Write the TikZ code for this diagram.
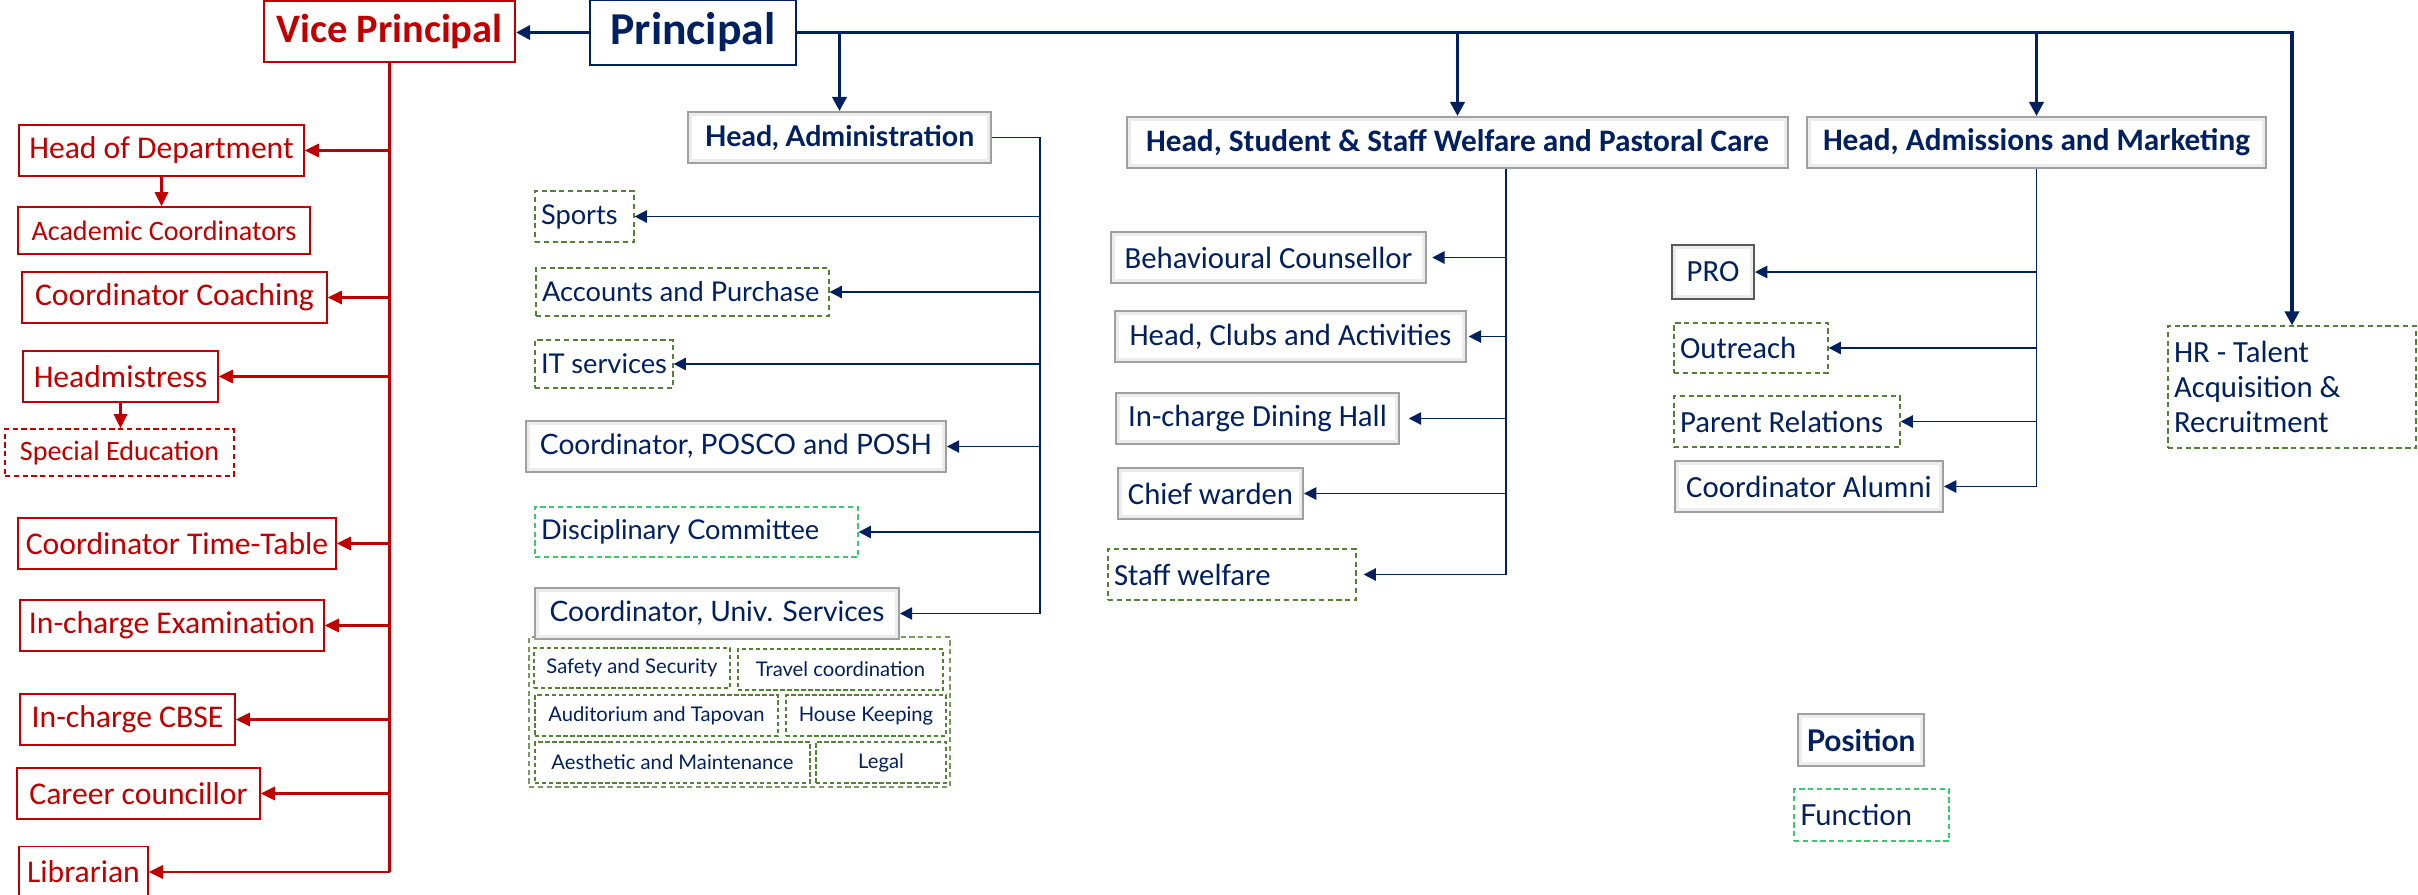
\documentclass[tikz,border=0pt]{standalone}
\usepackage{fontspec}
\setmainfont{Carlito}
\newfontfamily\widefont{Lato}
\usetikzlibrary{arrows.meta}

\definecolor{navy}{RGB}{0,32,96}
\definecolor{vpred}{RGB}{192,0,0}
\definecolor{fngreen}{RGB}{84,130,53}
\definecolor{mintgreen}{RGB}{60,200,110}
\definecolor{bevelgray}{RGB}{160,160,160}

\tikzset{
  redbox/.style={draw=vpred, line width=0.9pt, text=vpred, inner sep=0pt,
    minimum height=1.02cm, font=\fontsize{18}{20}\selectfont},
  redsmall/.style={redbox, minimum height=0.94cm, font=\fontsize{16}{18}\selectfont},
  posbox/.style={draw=bevelgray, line width=1.1pt, fill=gray!15, text=navy, inner sep=0pt,
    minimum height=1.02cm, font=\fontsize{17.5}{20}\selectfont,
    path picture={\fill[white] ([shift={(2.5pt,-2.5pt)}]path picture bounding box.north west)
      rectangle ([shift={(-2.5pt,2.5pt)}]path picture bounding box.south east);}},
  headbox/.style={posbox, font=\bfseries\fontsize{17.8}{20}\selectfont},
  wideheadbox/.style={posbox, font=\widefont\bfseries\fontsize{16.2}{18}\selectfont},
  wideposbox/.style={posbox, font=\widefont\fontsize{16}{18}\selectfont},
  fnbox/.style={draw=fngreen, dash pattern=on 3pt off 2pt, line width=0.7pt, text=navy,
    inner xsep=0.12cm, inner ysep=0pt, minimum height=1.02cm, align=flush left,
    font=\fontsize{17.5}{19.8}\selectfont},
  widefnbox/.style={fnbox, font=\widefont\fontsize{15.5}{18}\selectfont},
  unitbox/.style={draw=fngreen, dash pattern=on 2.5pt off 1.5pt, line width=1.1pt, text=navy,
    inner sep=0pt, minimum height=0.82cm, font=\widefont\fontsize{11.5}{13}\selectfont},
  redline/.style={draw=vpred, line width=1.4pt},
  redarrow/.style={redline, -{Triangle[length=8pt,width=7.5pt]}},
  subline/.style={draw=navy, line width=1pt},
  subarrow/.style={subline, -{Triangle[length=7pt,width=7pt]}},
  toparrow/.style={draw=navy, line width=2pt, -{Triangle[length=8pt,width=8pt]}},
}

\begin{document}
\begin{tikzpicture}[x=0.02cm, y=-0.02cm]
  \useasboundingbox (0,0) rectangle (2418,894);

  % top of the chart
  \node[redbox, line width=1.2pt, minimum width=5.02cm, minimum height=1.22cm,
        font=\bfseries\fontsize{23}{26}\selectfont] (vp) at (389.5,31.5) {Vice Principal};
  \node[draw=navy, line width=1.2pt, text=navy, inner sep=0pt, minimum width=4.12cm,
        minimum height=1.3cm, font=\bfseries\fontsize{26}{28}\selectfont] (principal) at (693,32.5) {Principal};

  % vice principal side
  \foreach \n/\x/\y/\w/\t in {hod/161.5/150.5/5.7/Head of Department,
      coach/174.5/297.5/6.1/Coordinator Coaching,
      headm/120.5/376.5/3.9/Headmistress,
      ctt/177/543.5/6.36/Coordinator Time-Table,
      exam/172/625.5/6.08/In-charge Examination,
      cbse/127.5/719.5/4.3/In-charge CBSE,
      career/138.5/793.5/4.86/Career councillor,
      libr/83.5/872/2.58/Librarian}
    \node[redbox, minimum width=\w cm] (\n) at (\x,\y) {\t};
  \node[redsmall, minimum width=5.84cm] (acad) at (164,230.5) {Academic Coordinators};
  \node[redsmall, dash pattern=on 3pt off 2pt, minimum width=4.58cm] (spedu) at (119.5,452.5) {Special Education};

  % positions
  \node[wideheadbox, minimum width=6.06cm] (hadm) at (839.5,137.5) {Head, Administration};
  \node[headbox, minimum width=13.22cm] (hswel) at (1457.5,142.5) {Head, Student \& Staff Welfare and Pastoral Care};
  \node[headbox, minimum width=9.18cm] (hmkt) at (2036.5,142.5) {Head, Admissions and Marketing};
  \node[wideposbox, minimum width=8.4cm] (posco) at (736,446.5) {Coordinator, POSCO and POSH};
  \node[draw=fngreen!80, dash pattern=on 3pt off 2pt, line width=0.7pt, minimum width=8.42cm,
        minimum height=3cm] (univgrp) at (739.5,712) {};
  \node[wideposbox, minimum width=7.28cm] (univ) at (717,613.5) {Coordinator, Univ. Services};
  \node[posbox, minimum width=6.3cm] (behav) at (1268.5,257.5) {Behavioural Counsellor};
  \node[posbox, minimum width=7.02cm] (clubs) at (1290.5,336.5) {Head, Clubs and Activities};
  \node[posbox, minimum width=5.66cm] (dining) at (1257.5,418.5) {In-charge Dining Hall};
  \node[posbox, minimum width=3.7cm] (warden) at (1210.5,493.5) {Chief warden};
  \node[posbox, draw=black!65, minimum width=1.64cm, minimum height=1.08cm] (pro) at (1713,272) {PRO};
  \node[posbox, minimum width=5.36cm] (alumni) at (1809,486.5) {Coordinator Alumni};

  % functions
  \node[widefnbox, text width=1.74cm] (sports) at (584.5,216.5) {Sports};
  \node[widefnbox, text width=5.62cm, minimum height=0.96cm] (accts) at (682.5,292) {Accounts and Purchase};
  \node[widefnbox, text width=2.52cm, minimum height=0.96cm] (its) at (604,364) {IT services};
  \node[widefnbox, draw=mintgreen, text width=6.22cm, minimum height=1cm] (disc) at (696.5,532) {Disciplinary Committee};
  \node[fnbox, text width=4.72cm] (staffw) at (1232,574.5) {Staff welfare};
  \node[fnbox, text width=2.84cm, minimum height=1cm] (outreach) at (1751,348) {Outreach};
  \node[fnbox, text width=4.28cm] (parent) at (1787,421.5) {Parent Relations};
  \node[fnbox, text width=4.72cm, minimum height=2.44cm] (hr) at (2292,387) {HR - Talent\\Acquisition \&\\Recruitment};

  % university services units
  \node[unitbox, minimum width=3.92cm, minimum height=0.8cm] (safety) at (632,668) {Safety and Security};
  \node[unitbox, minimum width=4.1cm] (travel) at (840.5,669.5) {Travel coordination};
  \node[unitbox, minimum width=4.86cm] (audit) at (656.5,715.5) {Auditorium and Tapovan};
  \node[unitbox, minimum width=3.2cm] (house) at (866,715.5) {House Keeping};
  \node[unitbox, minimum width=5.5cm] (aesth) at (672.5,762.5) {Aesthetic and Maintenance};
  \node[unitbox, minimum width=2.6cm] (legal) at (881,762.5) {Legal};

  % legend
  \node[wideheadbox, minimum width=2.52cm, minimum height=1.04cm, font=\widefont\bfseries\fontsize{17}{18}\selectfont] (legpos) at (1861,740) {Position};
  \node[widefnbox, draw=mintgreen, text width=2.86cm, minimum height=1.04cm, font=\widefont\fontsize{16.5}{18}\selectfont] (legfn) at (1871.5,815) {Function};

  % principal lines
  \draw[toparrow] (principal.west) -- (principal.west -| vp.east);
  \draw[toparrow] (principal.east) -| (hr.north);
  \foreach \n in {hadm,hswel,hmkt}
    \draw[toparrow] (principal.east -| \n.north) -- (\n.north);

  % vice principal lines
  \draw[redline] (vp.south) -- (vp.south |- libr.east);
  \foreach \n in {hod,coach,headm,ctt,exam,cbse,career,libr}
    \draw[redarrow] (vp.south |- \n.east) -- (\n.east);
  \draw[redarrow] (hod.south) -- (hod.south |- acad.north);
  \draw[redarrow] (headm.south) -- (headm.south |- spedu.north);

  % administration
  \draw[subline] (hadm.east) -- ++(48,0) coordinate (abus) -- (abus |- univ.east);
  \foreach \n in {sports,accts,its,posco,disc,univ}
    \draw[subarrow] (abus |- \n.east) -- (\n.east);

  % welfare
  \path (hswel.south) ++(48.5,0) coordinate (sbus);
  \draw[subline] (sbus) -- (sbus |- staffw.east);
  \foreach \n/\g in {behav/3pt,clubs/1pt,dining/5pt,warden/0pt,staffw/4pt}
    \draw[subarrow, shorten >=\g] (sbus |- \n.east) -- (\n.east);

  % admissions
  \draw[subline] (hmkt.south) -- (hmkt.south |- alumni.east);
  \foreach \n in {pro,outreach,parent,alumni}
    \draw[subarrow] (hmkt.south |- \n.east) -- (\n.east);
\end{tikzpicture}
\end{document}
